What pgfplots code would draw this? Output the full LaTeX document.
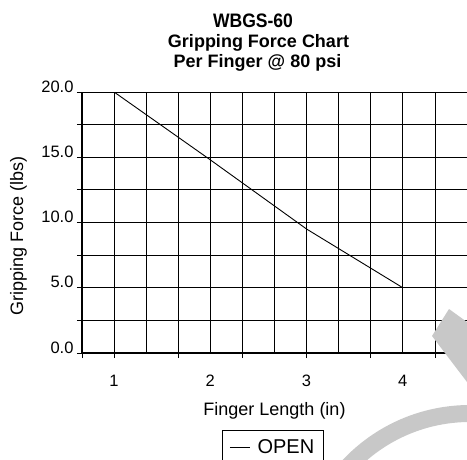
\documentclass[border=0pt]{standalone}
\usepackage{fontspec}
\setmainfont{Liberation Sans}
\newfontfamily\narrowfont[FakeStretch=0.9]{Liberation Sans}
\usepackage{pgfplots}
\pgfplotsset{compat=1.18}
\definecolor{wm}{RGB}{200,200,200}
\begin{document}
\begin{tikzpicture}[x=1pt,y=1pt]
\begin{pgfinterruptboundingbox}
\begin{axis}[
  scale only axis, width=385pt, height=261pt,
  xmin=0.6667, xmax=4.6667, ymin=0, ymax=20,
  axis x line*=bottom, axis y line*=left,
  axis line style={line width=2.5pt, black},
  xtick={0.6667,1,1.6667,2.3333,3,3.6667,4.3333},
  xticklabels={},
  extra x ticks={1,2,3,4},
  extra x tick labels={1,2,3,4},
  extra x tick style={grid=none, tick style={draw=none}},
  minor xtick={0.6667,1,1.3333,1.6667,2,2.3333,2.6667,3,3.3333,3.6667,4,4.3333,4.6667},
  ytick={0,2.5,5,7.5,10,12.5,15,17.5,20},
  yticklabels={0.0,,5.0,,10.0,,15.0,,20.0},
  tick align=outside,
  major tick length=5pt, minor tick length=0pt,
  tick style={black, line width=0.8pt},
  grid=both,
  major grid style={black, line width=0.8pt},
  minor grid style={black, line width=0.8pt},
  ticklabel style={font=\fontsize{16.5}{19}\selectfont},
  yticklabel style={anchor=base east},
  xticklabel style={anchor=base, yshift=-28pt},
  xlabel={Finger Length (in)},
  ylabel={Gripping Force (lbs)},
  label style={font=\fontsize{18}{21}\selectfont},
  xlabel style={at={(axis description cs:0.5,0)}, anchor=base, yshift=-62pt},
  ylabel style={at={(axis description cs:-0.1532,0.448)}, anchor=base},
  legend style={at={(axis description cs:0.3636,-0.295)}, anchor=north west,
    draw=black, line width=0.8pt, font=\fontsize{20}{24}\selectfont,
    inner xsep=7pt, inner ysep=7pt},
  legend image code/.code={\draw[line width=1.2pt] (0pt,0pt) -- (20pt,0pt);},
]
\addplot[black, line width=0.9pt] coordinates {(1,20) (2,14.8) (3,9.5) (4,5)};
\addlegendentry{\hspace{5pt}OPEN\hspace{11pt}}
\coordinate (bl) at (rel axis cs:0,0);
\end{axis}
\end{pgfinterruptboundingbox}
\begin{scope}[shift={(bl)}, shift={(-82,-106)}]
\path[use as bounding box] (0,0) rectangle (467,459);
\node[font=\narrowfont\bfseries\fontsize{19.5}{22}\selectfont, anchor=base] at (253,432) {WBGS-60};
\node[font=\bfseries\fontsize{18}{21}\selectfont, anchor=base] at (258.5,412) {Gripping Force Chart};
\node[font=\bfseries\fontsize{18}{21}\selectfont, anchor=base] at (257.5,392) {Per Finger @ 80 psi};
\fill[wm] (449,150) -- (467,137) -- (467,77) -- (432,123) -- cycle;
\fill[wm, even odd rule] (470,-121) circle (175) (470,-121) circle (158);
\end{scope}
\end{tikzpicture}
\end{document}
